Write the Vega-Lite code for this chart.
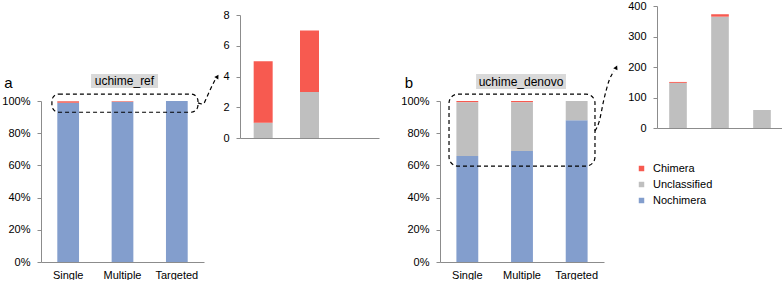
{
  "$schema": "https://vega.github.io/schema/vega-lite/v6.json",
  "padding": {"left": 1, "top": 0, "right": 0, "bottom": 0},
  "background": "white",
  "config": {
    "font": "Liberation Sans",
    "view": {"stroke": null},
    "axis": {"domainColor": "#8c8c8c", "tickColor": "#8c8c8c", "labelColor": "#000000", "labelFontSize": 11, "labelFont": "Liberation Sans", "grid": false, "tickSize": 4, "labelPadding": 7, "title": null},
    "axisX": {"ticks": false, "tickSize": 0, "labelAngle": 0, "labelPadding": 7},
    "legend": {"labelFont": "Liberation Sans", "labelFontSize": 11, "labelColor": "#000000"}
  },
  "bounds": "flush",
  "spacing": 36,
  "hconcat": [
    {
      "width": 163,
      "height": 256,
      "resolve": {"scale": {"x": "independent", "y": "independent"}},
      "layer": [
        {
          "data": {"values": [
            {"sample": "Single", "cat": "Nochimera", "pct": 98.9},
            {"sample": "Single", "cat": "Unclassified", "pct": 0.2},
            {"sample": "Single", "cat": "Chimera", "pct": 0.9},
            {"sample": "Multiple", "cat": "Nochimera", "pct": 99.4},
            {"sample": "Multiple", "cat": "Unclassified", "pct": 0.25},
            {"sample": "Multiple", "cat": "Chimera", "pct": 0.35},
            {"sample": "Targeted", "cat": "Nochimera", "pct": 100},
            {"sample": "Targeted", "cat": "Unclassified", "pct": 0},
            {"sample": "Targeted", "cat": "Chimera", "pct": 0}
          ]},
          "mark": {"type": "bar"},
          "encoding": {
            "x": {"field": "sample", "type": "nominal", "sort": ["Single", "Multiple", "Targeted"], "scale": {"paddingInner": 0.6, "paddingOuter": 0.3}, "axis": {"title": null}},
            "y": {"field": "pct", "type": "quantitative", "stack": "normalize", "scale": {"domain": [0, 1], "range": [256, 95], "nice": false}, "axis": {"values": [0, 0.2, 0.4, 0.6, 0.8, 1], "format": ".0%", "title": null}},
            "order": {"field": "pct", "sort": "descending"},
            "color": {"field": "cat", "type": "nominal", "sort": ["Chimera", "Unclassified", "Nochimera"], "scale": {"domain": ["Chimera", "Unclassified", "Nochimera"], "range": ["#f75a50", "#bfbfbf", "#839ecd"]},
              "legend": {"title": null, "orient": "none", "legendX": 595, "legendY": 157, "symbolType": "square", "symbolSize": 30, "labelOffset": 6, "rowPadding": 4, "padding": 0}}
          }
        },
        {
          "data": {"values": [{"x1": 0.307, "x2": 0.718, "y1": 1.081, "y2": 1.168}]},
          "mark": {"type": "rect", "fill": "#d9d9d9"},
          "encoding": {
            "x": {"field": "x1", "type": "quantitative", "scale": {"domain": [0, 1], "zero": false, "nice": false}, "axis": null},
            "x2": {"field": "x2"},
            "y": {"field": "y1", "type": "quantitative", "scale": {"domain": [0, 1], "range": [256, 95], "zero": false, "nice": false}, "axis": null},
            "y2": {"field": "y2"}
          }
        },
        {
          "data": {"values": [{"x": 0.512, "y": 1.124, "label": "uchime_ref"}, {"x": -0.2, "y": 1.11, "label": "a"}]},
          "mark": {"type": "text", "color": "#000000", "align": "center", "baseline": "middle"},
          "encoding": {
            "x": {"field": "x", "type": "quantitative", "scale": {"domain": [0, 1], "zero": false, "nice": false}, "axis": null},
            "y": {"field": "y", "type": "quantitative", "scale": {"domain": [0, 1], "range": [256, 95], "zero": false, "nice": false}, "axis": null},
            "text": {"field": "label"},
            "size": {"condition": {"test": "datum.label === 'a'", "value": 15}, "value": 12}
          }
        },
        {
          "data": {"values": [{"x1": 0.067, "x2": 0.963, "y1": 0.93, "y2": 1.043}]},
          "mark": {"type": "rect", "fill": "transparent", "stroke": "#000000", "strokeWidth": 1.2, "strokeDash": [4, 3], "cornerRadius": 7},
          "encoding": {
            "x": {"field": "x1", "type": "quantitative", "scale": {"domain": [0, 1], "zero": false, "nice": false}, "axis": null},
            "x2": {"field": "x2"},
            "y": {"field": "y1", "type": "quantitative", "scale": {"domain": [0, 1], "range": [256, 95], "zero": false, "nice": false}, "axis": null},
            "y2": {"field": "y2"}
          }
        },
        {
          "data": {"values": [
            {"x": 0.963, "y": 0.988}, {"x": 0.994, "y": 0.981}, {"x": 1.018, "y": 1.025}, {"x": 1.043, "y": 1.081}, {"x": 1.067, "y": 1.13}
          ]},
          "mark": {"type": "line", "color": "#000000", "strokeWidth": 1.2, "strokeDash": [4, 3], "interpolate": "monotone"},
          "encoding": {
            "x": {"field": "x", "type": "quantitative", "scale": {"domain": [0, 1], "zero": false, "nice": false}, "axis": null},
            "y": {"field": "y", "type": "quantitative", "scale": {"domain": [0, 1], "range": [256, 95], "zero": false, "nice": false}, "axis": null}
          }
        },
        {
          "data": {"values": [{"x": 1.08, "y": 1.149}]},
          "mark": {"type": "point", "shape": "triangle", "filled": true, "color": "#000000", "size": 22, "angle": 32, "opacity": 1},
          "encoding": {
            "x": {"field": "x", "type": "quantitative", "scale": {"domain": [0, 1], "zero": false, "nice": false}, "axis": null},
            "y": {"field": "y", "type": "quantitative", "scale": {"domain": [0, 1], "range": [256, 95], "zero": false, "nice": false}, "axis": null}
          }
        }
      ]
    },
    {
      "width": 164,
      "height": 132,
      "data": {"values": [
        {"sample": "Single", "cat": "Unclassified", "n": 1},
        {"sample": "Single", "cat": "Chimera", "n": 4},
        {"sample": "Multiple", "cat": "Unclassified", "n": 3},
        {"sample": "Multiple", "cat": "Chimera", "n": 4},
        {"sample": "Targeted", "cat": "Unclassified", "n": 0},
        {"sample": "Targeted", "cat": "Chimera", "n": 0}
      ]},
      "mark": {"type": "bar"},
      "encoding": {
        "x": {"field": "sample", "type": "nominal", "sort": ["Single", "Multiple", "Targeted"], "scale": {"range": [0, 139], "paddingInner": 0.59, "paddingOuter": 0.295}, "axis": {"labels": false, "title": null}},
        "y": {"field": "n", "type": "quantitative", "stack": "zero", "scale": {"domain": [0, 8], "range": [132, 9], "nice": false}, "axis": {"values": [0, 2, 4, 6, 8], "title": null}},
        "color": {"field": "cat", "type": "nominal", "sort": ["Chimera", "Unclassified", "Nochimera"], "scale": {"domain": ["Chimera", "Unclassified", "Nochimera"], "range": ["#f75a50", "#bfbfbf", "#839ecd"]},
          "legend": {"title": null, "orient": "none", "legendX": 595, "legendY": 157, "symbolType": "square", "symbolSize": 30, "labelOffset": 6, "rowPadding": 4, "padding": 0}}
      }
    },
    {
      "width": 181,
      "height": 256,
      "resolve": {"scale": {"x": "independent", "y": "independent"}},
      "layer": [
        {
          "data": {"values": [
            {"sample": "Single", "cat": "Nochimera", "pct": 65.8},
            {"sample": "Single", "cat": "Unclassified", "pct": 33.5},
            {"sample": "Single", "cat": "Chimera", "pct": 0.7},
            {"sample": "Multiple", "cat": "Nochimera", "pct": 68.9},
            {"sample": "Multiple", "cat": "Unclassified", "pct": 30.4},
            {"sample": "Multiple", "cat": "Chimera", "pct": 0.7},
            {"sample": "Targeted", "cat": "Nochimera", "pct": 88},
            {"sample": "Targeted", "cat": "Unclassified", "pct": 12},
            {"sample": "Targeted", "cat": "Chimera", "pct": 0}
          ]},
          "mark": {"type": "bar"},
          "encoding": {
            "x": {"field": "sample", "type": "nominal", "sort": ["Single", "Multiple", "Targeted"], "scale": {"range": [0, 164], "paddingInner": 0.6, "paddingOuter": 0.3}, "axis": {"title": null}},
            "y": {"field": "pct", "type": "quantitative", "stack": "normalize", "scale": {"domain": [0, 1], "range": [256, 95], "nice": false}, "axis": {"values": [0, 0.2, 0.4, 0.6, 0.8, 1], "format": ".0%", "title": null}},
            "order": {"field": "pct", "sort": "descending"},
            "color": {"field": "cat", "type": "nominal", "sort": ["Chimera", "Unclassified", "Nochimera"], "scale": {"domain": ["Chimera", "Unclassified", "Nochimera"], "range": ["#f75a50", "#bfbfbf", "#839ecd"]},
              "legend": {"title": null, "orient": "none", "legendX": 595, "legendY": 157, "symbolType": "square", "symbolSize": 30, "labelOffset": 6, "rowPadding": 4, "padding": 0}}
          }
        },
        {
          "data": {"values": [{"x1": 0.22, "x2": 0.768, "y1": 1.075, "y2": 1.168}]},
          "mark": {"type": "rect", "fill": "#d9d9d9"},
          "encoding": {
            "x": {"field": "x1", "type": "quantitative", "scale": {"domain": [0, 1], "range": [0, 164], "zero": false, "nice": false}, "axis": null},
            "x2": {"field": "x2"},
            "y": {"field": "y1", "type": "quantitative", "scale": {"domain": [0, 1], "range": [256, 95], "zero": false, "nice": false}, "axis": null},
            "y2": {"field": "y2"}
          }
        },
        {
          "data": {"values": [{"x": 0.494, "y": 1.121, "label": "uchime_denovo"}, {"x": -0.189, "y": 1.11, "label": "b"}]},
          "mark": {"type": "text", "color": "#000000", "align": "center", "baseline": "middle"},
          "encoding": {
            "x": {"field": "x", "type": "quantitative", "scale": {"domain": [0, 1], "range": [0, 164], "zero": false, "nice": false}, "axis": null},
            "y": {"field": "y", "type": "quantitative", "scale": {"domain": [0, 1], "range": [256, 95], "zero": false, "nice": false}, "axis": null},
            "text": {"field": "label"},
            "size": {"condition": {"test": "datum.label === 'b'", "value": 15}, "value": 12}
          }
        },
        {
          "data": {"values": [{"x1": 0.055, "x2": 0.945, "y1": 0.596, "y2": 1.043}]},
          "mark": {"type": "rect", "fill": "transparent", "stroke": "#000000", "strokeWidth": 1.2, "strokeDash": [4, 3], "cornerRadius": 9},
          "encoding": {
            "x": {"field": "x1", "type": "quantitative", "scale": {"domain": [0, 1], "range": [0, 164], "zero": false, "nice": false}, "axis": null},
            "x2": {"field": "x2"},
            "y": {"field": "y1", "type": "quantitative", "scale": {"domain": [0, 1], "range": [256, 95], "zero": false, "nice": false}, "axis": null},
            "y2": {"field": "y2"}
          }
        },
        {
          "data": {"values": [
            {"x": 0.945, "y": 0.814}, {"x": 0.97, "y": 0.87}, {"x": 1.0, "y": 1.012}, {"x": 1.03, "y": 1.124}, {"x": 1.061, "y": 1.186}
          ]},
          "mark": {"type": "line", "color": "#000000", "strokeWidth": 1.2, "strokeDash": [4, 3], "interpolate": "monotone"},
          "encoding": {
            "x": {"field": "x", "type": "quantitative", "scale": {"domain": [0, 1], "range": [0, 164], "zero": false, "nice": false}, "axis": null},
            "y": {"field": "y", "type": "quantitative", "scale": {"domain": [0, 1], "range": [256, 95], "zero": false, "nice": false}, "axis": null}
          }
        },
        {
          "data": {"values": [{"x": 1.073, "y": 1.205}]},
          "mark": {"type": "point", "shape": "triangle", "filled": true, "color": "#000000", "size": 22, "angle": 26, "opacity": 1},
          "encoding": {
            "x": {"field": "x", "type": "quantitative", "scale": {"domain": [0, 1], "range": [0, 164], "zero": false, "nice": false}, "axis": null},
            "y": {"field": "y", "type": "quantitative", "scale": {"domain": [0, 1], "range": [256, 95], "zero": false, "nice": false}, "axis": null}
          }
        }
      ]
    },
    {
      "width": 126,
      "height": 122,
      "data": {"values": [
        {"sample": "Single", "cat": "Unclassified", "n": 148},
        {"sample": "Single", "cat": "Chimera", "n": 3},
        {"sample": "Multiple", "cat": "Unclassified", "n": 365},
        {"sample": "Multiple", "cat": "Chimera", "n": 8},
        {"sample": "Targeted", "cat": "Unclassified", "n": 59},
        {"sample": "Targeted", "cat": "Chimera", "n": 0}
      ]},
      "mark": {"type": "bar"},
      "encoding": {
        "x": {"field": "sample", "type": "nominal", "sort": ["Single", "Multiple", "Targeted"], "scale": {"paddingInner": 0.58, "paddingOuter": 0.29}, "axis": {"labels": false, "title": null}},
        "y": {"field": "n", "type": "quantitative", "stack": "zero", "scale": {"domain": [0, 400], "nice": false}, "axis": {"values": [0, 100, 200, 300, 400], "title": null}},
        "color": {"field": "cat", "type": "nominal", "sort": ["Chimera", "Unclassified", "Nochimera"], "scale": {"domain": ["Chimera", "Unclassified", "Nochimera"], "range": ["#f75a50", "#bfbfbf", "#839ecd"]},
          "legend": {"title": null, "orient": "none", "legendX": 595, "legendY": 157, "symbolType": "square", "symbolSize": 30, "labelOffset": 6, "rowPadding": 4, "padding": 0}}
      }
    }
  ]
}
